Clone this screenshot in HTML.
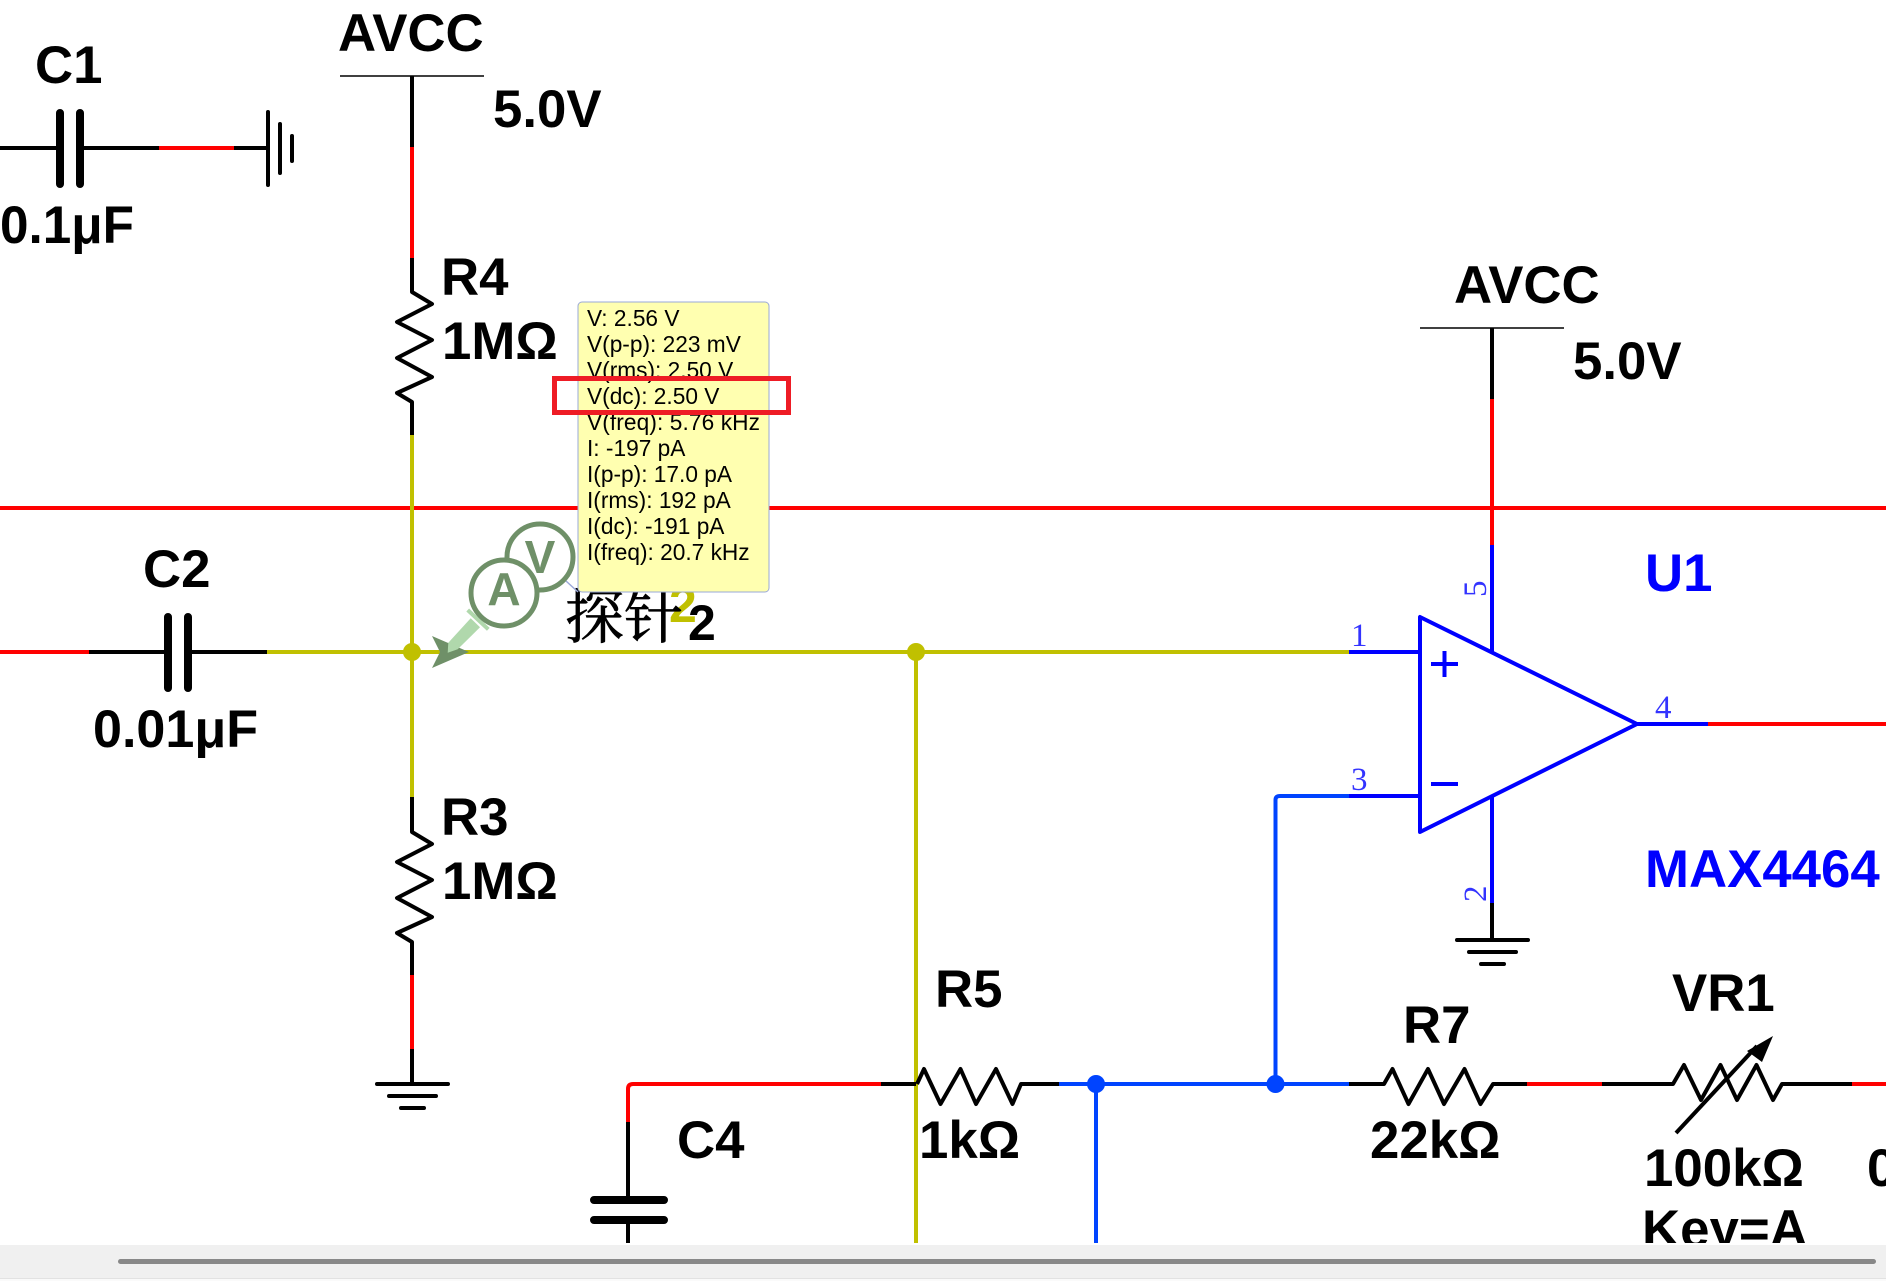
<!DOCTYPE html>
<html>
<head>
<meta charset="utf-8">
<style>
html,body{margin:0;padding:0;background:#fff;width:1886px;height:1281px;overflow:hidden}
svg{display:block;position:absolute;left:0;top:0}
.l{font-family:"Liberation Sans",sans-serif;font-weight:700;font-size:52.8px;fill:#000}
.b{fill:#0000ff}
.p{font-family:"Liberation Serif",serif;font-size:33px;fill:#0000ff;fill-opacity:.8}
.t{font-family:"Liberation Sans",sans-serif;font-size:22.7px;fill:#000}
.w{fill:none;stroke-width:4}
.z{stroke-linejoin:round}
</style>
</head>
<body>
<svg width="1886" height="1281" viewBox="0 0 1886 1281" xmlns="http://www.w3.org/2000/svg">
<defs><clipPath id="c"><rect x="0" y="0" width="1886" height="1243"/></clipPath></defs>
<g clip-path="url(#c)">
<!-- long red wire -->
<path class="w" d="M0 508H1886" stroke="#ff0000"/>

<!-- C1 -->
<path class="w" d="M0 148H60M80 148H159M234 148H268" stroke="#000"/>
<path class="w" d="M159 148H234" stroke="#ff0000"/>
<path d="M60 113V184M80 113V184" stroke="#000" stroke-width="8" stroke-linecap="round" fill="none"/>
<path class="w" d="M268 112V185M280 124V173M292 136V161" stroke="#000" stroke-linecap="round"/>

<!-- AVCC 1 / R4 -->
<path d="M340 76H484" stroke="#000" stroke-width="1.6" fill="none"/>
<path class="w" d="M412 76V147" stroke="#000"/>
<path class="w" d="M412 147V258" stroke="#ff0000"/>
<path class="w z" d="M412 258V292L432 304L397 322L432 340L397 358L432 377L397 393L412 402V435" stroke="#000"/>
<path class="w" d="M412 435V797" stroke="#c0c000"/>
<path class="w z" d="M412 797V832L432 844L397 862L432 880L397 898L432 917L397 933L412 942V975" stroke="#000"/>
<path class="w" d="M412 975V1049" stroke="#ff0000"/>
<path class="w" d="M412 1049V1084" stroke="#000"/>
<path class="w" d="M377 1084H448M389 1096H436M401 1108H424" stroke="#000" stroke-linecap="round"/>

<!-- C2 -->
<path class="w" d="M0 652H89" stroke="#ff0000"/>
<path class="w" d="M89 652H168M188 652H267" stroke="#000"/>
<path d="M168 617V688M188 617V688" stroke="#000" stroke-width="8" stroke-linecap="round" fill="none"/>
<path class="w" d="M267 652H1349" stroke="#c0c000"/>
<path class="w" d="M916 652V1243" stroke="#c0c000"/>
<ellipse cx="412" cy="652" rx="9" ry="9" fill="#c0c000"/>
<ellipse cx="916" cy="652" rx="9" ry="9" fill="#c0c000"/>

<!-- AVCC 2 / U1 -->
<path d="M1420 328H1564" stroke="#000" stroke-width="1.6" fill="none"/>
<path class="w" d="M1492 328V399" stroke="#000"/>
<path class="w" d="M1492 399V545" stroke="#ff0000"/>
<path class="w" d="M1492 545V652" stroke="#0000ff"/>
<path class="w" d="M1349 652H1420" stroke="#0000ff"/>
<path class="w" d="M1349 796H1420" stroke="#0000ff"/>
<path class="w" d="M1420 617V832L1637 724Z" stroke="#0000ff" stroke-linejoin="round"/>
<path class="w" d="M1431 664H1458M1444.500 651V677M1431 784H1458" stroke="#0000ff"/>
<path class="w" d="M1637 724H1708" stroke="#0000ff"/>
<path class="w" d="M1708 724H1886" stroke="#ff0000"/>
<path class="w" d="M1492 797V903" stroke="#0000ff"/>
<path class="w" d="M1492 903V940" stroke="#000"/>
<path class="w" d="M1457 940H1528M1469 952H1516M1481 964H1504" stroke="#000" stroke-linecap="round"/>

<!-- bottom row -->
<path class="w" d="M628 1122V1089Q628 1084 633 1084H881" stroke="#ff0000"/>
<path class="w" d="M628 1122V1200M628 1220V1243" stroke="#000"/>
<path d="M594 1200H664M594 1220H664" stroke="#000" stroke-width="8" stroke-linecap="round" fill="none"/>
<path class="w" d="M881 1084H916" stroke="#000"/>
<path class="w z" d="M917 1084L924 1069L940.500 1104L960.500 1069L976 1104L996 1069L1012.500 1104L1021 1084H1059" stroke="#000"/>
<path class="w" d="M1059 1084H1349M1096 1084V1243M1275.500 1084V800Q1275.500 796 1280 796H1349" stroke="#0044ff"/>
<ellipse cx="1096" cy="1084" rx="9" ry="9" fill="#0044ff"/>
<ellipse cx="1275.500" cy="1084" rx="9" ry="9" fill="#0044ff"/>
<path class="w z" d="M1349 1084H1384L1392.500 1069L1408.500 1104L1428 1069L1444 1104L1464.500 1069L1480.500 1104L1493 1084H1527" stroke="#000"/>
<path class="w" d="M1527 1084H1602" stroke="#ff0000"/>
<path class="w z" d="M1602 1084H1673L1684 1065L1701 1100L1720.500 1065L1737 1100L1756.500 1065L1773 1100L1782 1084H1852" stroke="#000"/>
<path class="w" d="M1852 1084H1886" stroke="#ff0000"/>
<path class="w" d="M1676 1133L1757 1046" stroke="#000"/>
<polygon points="1773,1036 1762,1062 1747,1051" fill="#000"/>

<!-- labels -->
<text class="l" x="35" y="83">C1</text>
<text class="l" x="0" y="243" textLength="134" lengthAdjust="spacingAndGlyphs">0.1μF</text>
<text class="l" x="338" y="51">AVCC</text>
<text class="l" x="493" y="127">5.0V</text>
<text class="l" x="441" y="295">R4</text>
<text class="l" x="442" y="359">1MΩ</text>
<text class="l" x="441" y="835">R3</text>
<text class="l" x="442" y="899">1MΩ</text>
<text class="l" x="143" y="587">C2</text>
<text class="l" x="93" y="747" textLength="165" lengthAdjust="spacingAndGlyphs">0.01μF</text>
<text class="l" x="1454" y="303">AVCC</text>
<text class="l" x="1573" y="379">5.0V</text>
<text class="l b" x="1645" y="591">U1</text>
<text class="l b" x="1645" y="887">MAX4464</text>
<text class="l" x="935" y="1007">R5</text>
<text class="l" x="919" y="1158">1kΩ</text>
<text class="l" x="677" y="1158">C4</text>
<text class="l" x="1403" y="1043">R7</text>
<text class="l" x="1370" y="1158">22kΩ</text>
<text class="l" x="1672" y="1011">VR1</text>
<text class="l" x="1644" y="1186">100kΩ</text>
<text class="l" x="1642" y="1247">Key=A</text>
<text class="l" x="1867" y="1186">0.1μF</text>

<!-- pin numbers -->
<text class="p" x="1351" y="646">1</text>
<text class="p" x="1351" y="790">3</text>
<text class="p" x="1655" y="718">4</text>
<text class="p" transform="translate(1486 597) rotate(-90)">5</text>
<text class="p" transform="translate(1486 902) rotate(-90)">2</text>

<!-- probe label -->
<text x="669" y="622" font-family="Liberation Sans,sans-serif" font-weight="700" font-size="50" fill="#c0c000">2</text>
<text x="565" y="638" font-family="'Liberation Serif','Noto Serif CJK SC',serif" font-size="59" fill="#000" stroke="#000" stroke-width=".7">探针</text>
<text x="688" y="640" font-family="Liberation Sans,sans-serif" font-weight="700" font-size="50" fill="#000">2</text>

<!-- probe -->
<path d="M566 581L578 592" stroke="#9aa8d8" stroke-width="1.500" fill="none"/>
<polygon points="432,636 469,652 432,668 440,652" fill="#6f9068"/>
<polygon points="470.700,618.300 480,627.300 457.700,649.300 447.700,652.700 448.300,642.700" fill="#b0d8ac"/>
<path d="M467.700 610L488.300 629.300" stroke="#b0d8ac" stroke-width="4" fill="none"/>
<circle cx="540" cy="557" r="33" fill="#fff" stroke="#6f9068" stroke-width="5"/>
<text x="540" y="573" text-anchor="middle" font-family="Liberation Sans,sans-serif" font-weight="700" font-size="46" fill="#6f9068">V</text>
<circle cx="504" cy="593" r="33" fill="#fff" stroke="#6f9068" stroke-width="5"/>
<text x="504" y="605" text-anchor="middle" font-family="Liberation Sans,sans-serif" font-weight="700" font-size="46" fill="#6f9068">A</text>

<!-- tooltip -->
<rect x="578" y="302" width="191" height="290" rx="4" ry="4" fill="#ffffb0" stroke="#9aa8d8" stroke-width="1"/>
<text class="t" x="587" y="326">V: 2.56 V</text>
<text class="t" x="587" y="352">V(p-p): 223 mV</text>
<text class="t" x="587" y="378">V(rms): 2.50 V</text>
<text class="t" x="587" y="404">V(dc): 2.50 V</text>
<text class="t" x="587" y="430" textLength="173" lengthAdjust="spacing">V(freq): 5.76 kHz</text>
<text class="t" x="587" y="456">I: -197 pA</text>
<text class="t" x="587" y="482">I(p-p): 17.0 pA</text>
<text class="t" x="587" y="508">I(rms): 192 pA</text>
<text class="t" x="587" y="534">I(dc): -191 pA</text>
<text class="t" x="587" y="560">I(freq): 20.7 kHz</text>
<rect x="554.500" y="378.500" width="234" height="34" fill="none" stroke="#ee1c25" stroke-width="5"/>
</g>

<!-- scrollbar -->
<rect x="0" y="1245" width="1886" height="36" fill="#f0f0f0"/>
<rect x="0" y="1278" width="1886" height="1" fill="#e2e2e2"/>
<rect x="0" y="1279" width="1886" height="2" fill="#fafafa"/>
<rect x="118" y="1259" width="1758" height="5" rx="2.500" ry="2.500" fill="#888888"/>
</svg>
</body>
</html>
